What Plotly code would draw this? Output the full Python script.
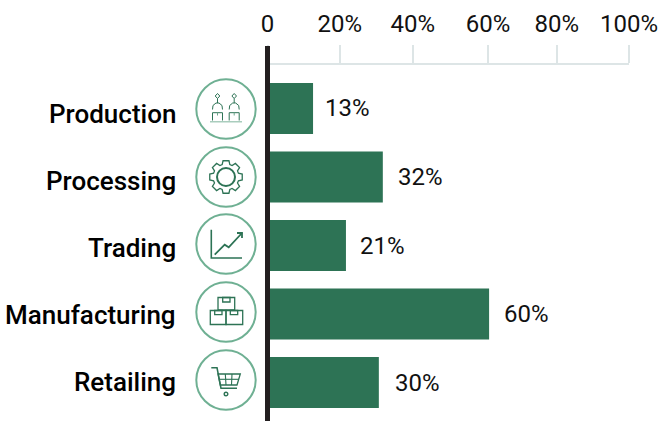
import numpy as np
import plotly.graph_objects as go

categories = ["Production", "Processing", "Trading", "Manufacturing", "Retailing"]
bar_values = [12.6, 31.9, 21.7, 61.3, 30.8]
value_labels = ["13%", "32%", "21%", "60%", "30%"]
tick_values = [0, 20, 40.2, 61, 80, 100]
tick_labels = ["0", "20%", "40%", "60%", "80%", "100%"]

W, H = 662, 421
GREEN = "#2d7355"
RING = "#6fb093"
DARK = "#231f20"
GREY = "#dde5e6"
TEXT = "#111111"
FONT = "Roboto"

fig = go.Figure(go.Bar(
    x=bar_values, y=categories, orientation="h",
    marker=dict(color=GREEN, line=dict(width=0)), hoverinfo="skip",
))

def px(x): return x / W
def py(y): return 1 - y / H

shapes = []
def path(points, close=False, color=GREEN, width=1.6):
    d = "M" + " L".join(f"{px(x):.5f} {py(y):.5f}" for x, y in points) + (" Z" if close else "")
    shapes.append(dict(type="path", path=d, xref="paper", yref="paper",
                       line=dict(color=color, width=width), layer="above"))
def circle(cx, cy, r, color=GREEN, width=1.6):
    shapes.append(dict(type="circle", xref="paper", yref="paper",
                       x0=px(cx - r), x1=px(cx + r), y0=py(cy + r), y1=py(cy - r),
                       line=dict(color=color, width=width), layer="above"))
def rect(cx, cy, x0, y0, x1, y1, width=1.6):
    path([(cx + x0, cy + y0), (cx + x1, cy + y0), (cx + x1, cy + y1), (cx + x0, cy + y1)], True, width=width)
def rel(cx, cy, pts): return [(cx + a, cy + b) for a, b in pts]

centers = [(226, 109), (226, 177), (226, 244), (226, 312), (226, 380)]
for c in centers:
    circle(c[0], c[1], 29.7, RING, 2)

# production icon
cx, cy = centers[0]
for off in (-8.5, 8.2):
    path(rel(cx + off, cy, [(0, -15.5), (2.3, -13), (0, -10.5), (-2.3, -13)]), True, width=1)
    path(rel(cx + off, cy, [(0, -10.5), (0, -6)]), width=1)
    path(rel(cx + off, cy, [(-5, 0.5), (-4.5, -3.5), (-1.5, -6), (1.5, -6), (4.5, -3.5), (5, 0.5)]), width=1)
    path(rel(cx + off, cy, [(-5, 11.5), (-5, 3.7), (5, 3.7), (5, 11.5)]), width=1)
    path(rel(cx + off, cy, [(0, 3.7), (0, 6.5)]), color="#6fa58d", width=1)
path(rel(cx, cy, [(-16, 12.8), (16, 12.8)]), color="#a9cdbd", width=1.6)

# gear icon
cx, cy = centers[1]
teeth = 8
gear = []
for i in range(teeth):
    a = 2 * np.pi * i / teeth
    for da, r in [(-0.30, 13), (-0.18, 16.5), (0.18, 16.5), (0.30, 13)]:
        gear.append((cx + r * np.sin(a + da), cy - r * np.cos(a + da)))
path(gear, True, width=1.3)
circle(cx, cy, 9, GREEN, 2)

# chart icon
cx, cy = centers[2]
path(rel(cx, cy, [(-14.7, -14.3), (-14.7, 14), (16, 14)]), width=1.6)
path(rel(cx, cy, [(-11.3, 10.7), (-1.3, 0.7), (2.7, 3.3), (16, -11)]), width=1.8)
path(rel(cx, cy, [(11, -11), (16, -11), (16, -6)]), width=1.8)

# boxes icon
cx, cy = centers[3]
rect(cx, cy, -8, -14.5, 8.7, -2, width=1.3)
rect(cx, cy, -3.3, -14.5, 4, -10, width=1.3)
rect(cx, cy, -15.7, -1.5, 0, 12.5, width=1.3)
rect(cx, cy, -11.3, -1.5, -4, 2.7, width=1.3)
rect(cx, cy, 0, -1.5, 16.7, 12.5, width=1.3)
rect(cx, cy, 4.3, -1.5, 11.7, 2.7, width=1.3)

# cart icon
cx, cy = centers[4]
path(rel(cx, cy, [(-14.7, -12.3), (-9, -12.3), (-5, 8.3), (11, 8.3)]), width=1.6)
path(rel(cx, cy, [(-8, -6), (14.3, -6), (11, 5), (-5.7, 5)]), True, width=1.3)
path(rel(cx, cy, [(-7, -0.7), (12.7, -0.7)]), width=1.1)
for a, b in [(-0.7, 0), (6, 5.5)]:
    path(rel(cx, cy, [(a, -6), (b, 5)]), width=1.1)
circle(cx, cy + 14, 1.8, GREEN, 1.4)

# vertical baseline
shapes.append(dict(type="line", xref="paper", yref="paper", x0=px(267.5), x1=px(267.5),
                   y0=0, y1=py(46), line=dict(color=DARK, width=5), layer="above"))

annotations = []
for cat, yshift in zip(categories, [-5.5, -4, -2.5, -0.5, 0.5]):
    annotations.append(dict(text=cat, x=px(178), xref="paper", y=cat, yref="y",
                            xanchor="right", yanchor="middle", showarrow=False, yshift=yshift,
                            font=dict(family=FONT, size=26, color="#000000", weight=500)))
for cat, v, lab, xs in zip(categories, bar_values, value_labels, [10, 13, 12, 13, 14]):
    annotations.append(dict(text=lab, x=v, xref="x", y=cat, yref="y", xanchor="left", yanchor="middle",
                            xshift=xs, showarrow=False,
                            font=dict(family=FONT, size=24, color=TEXT)))

fig.update_layout(
    width=W, height=H, margin=dict(l=0, r=0, t=0, b=0, autoexpand=False),
    paper_bgcolor="white", plot_bgcolor="white", showlegend=False, bargap=0.255,
    font=dict(family=FONT, color=TEXT),
    shapes=shapes, annotations=annotations,
    xaxis=dict(side="top", anchor="y", domain=[267.5 / W, 629 / W], range=[0, 100],
               tickmode="array", tickvals=tick_values, ticktext=tick_labels,
               ticks="outside", ticklen=18, tickwidth=2, tickcolor=GREY,
               showline=True, linecolor=GREY, linewidth=2, showgrid=False, zeroline=False,
               ticklabelstandoff=3, tickfont=dict(family=FONT, size=24, color=TEXT)),
    yaxis=dict(domain=[0, 1 - 65 / H], range=[4.562, -0.635], type="category",
               categoryorder="array", categoryarray=categories,
               showticklabels=False, showgrid=False, showline=False, zeroline=False, ticks=""),
)
fig.write_html("out.html", config=dict(displayModeBar=False),
               post_script="document.body.style.margin='0';document.documentElement.style.overflow='hidden';")
